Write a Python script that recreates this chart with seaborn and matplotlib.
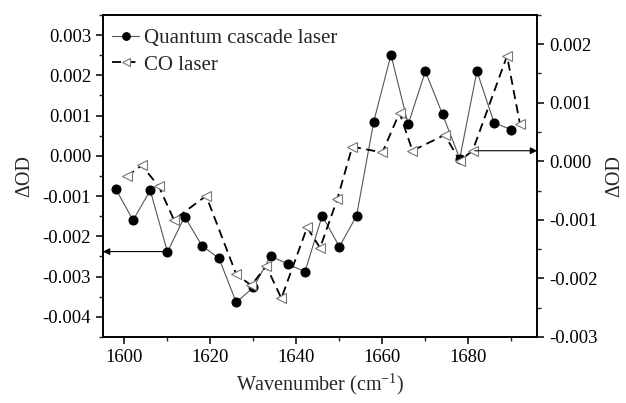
import numpy as np
import pandas as pd
import matplotlib
matplotlib.use("Agg")
import matplotlib.pyplot as plt
from matplotlib.ticker import MultipleLocator, FuncFormatter
import seaborn as sns

# QCL data (left axis)
qcl_x = [1598, 1602, 1606, 1610, 1614, 1618, 1622, 1626, 1630, 1634, 1638, 1642,
         1646, 1650, 1654, 1658, 1662, 1666, 1670, 1674, 1678, 1682, 1686, 1690]
qcl_y = [-0.00083, -0.00160, -0.00086, -0.00239, -0.00151, -0.00223, -0.00255, -0.00364,
         -0.00327, -0.00249, -0.00269, -0.00288, -0.00149, -0.00226, -0.00149, 0.00085,
         0.00251, 0.00078, 0.00210, 0.00103, -0.00007, 0.00210, 0.00082, 0.00065]

# CO laser data (right axis)
co_x = [1600.5, 1604, 1608, 1611.5, 1619, 1626, 1629.5, 1633, 1636.5, 1642.5, 1645.5,
        1649.5, 1653, 1660, 1664, 1667, 1674.5, 1678, 1681, 1689, 1692]
co_y = [-0.00026, -0.00007, -0.00043, -0.00100, -0.00059, -0.00193, -0.00212, -0.00179,
        -0.00234, -0.00113, -0.00148, -0.00065, 0.00025, 0.00015, 0.00083, 0.00018,
        0.00045, 0.00001, 0.00018, 0.00180, 0.00064]

sns.set_style("white")
plt.rcParams['font.family'] = ['Liberation Serif', 'DejaVu Serif']
plt.rcParams['mathtext.fontset'] = 'custom'
plt.rcParams['mathtext.rm'] = 'Liberation Serif'
plt.rcParams['mathtext.it'] = 'Liberation Serif:italic'
plt.rcParams['axes.unicode_minus'] = False

fig = plt.figure(figsize=(6.26, 4.03), dpi=100)
ax = fig.add_axes([0.1645, 0.164, 0.6935, 0.799])
ax2 = ax.twinx()

df_q = pd.DataFrame({"x": qcl_x, "y": qcl_y})
df_c = pd.DataFrame({"x": co_x, "y": co_y})

sns.lineplot(data=df_q, x="x", y="y", ax=ax, color="#555555", lw=0.8,
             marker="o", markersize=6.5, markerfacecolor="black", markeredgecolor="black",
             label="Quantum cascade laser", legend=False)
sns.lineplot(data=df_c, x="x", y="y", ax=ax2, color="black", lw=1.3, linestyle=(0, (5, 3)),
             marker="<", markersize=7.5, markerfacecolor="white", markeredgecolor="#777777",
             markeredgewidth=0.8, label="CO laser", legend=False)

ax.set_xlim(1595, 1696)
ax.set_ylim(-0.0045, 0.0035)
ax2.set_ylim(-0.003, 0.0025)

fmt = FuncFormatter(lambda v, p: f"{v:.3f}".replace("-0.000", "0.000"))
ax.yaxis.set_major_locator(MultipleLocator(0.001))
ax.yaxis.set_minor_locator(MultipleLocator(0.0005))
ax.yaxis.set_major_formatter(fmt)
ax2.yaxis.set_major_locator(MultipleLocator(0.001))
ax2.yaxis.set_minor_locator(MultipleLocator(0.0005))
ax2.yaxis.set_major_formatter(fmt)
ax.xaxis.set_major_locator(MultipleLocator(20))
ax.xaxis.set_minor_locator(MultipleLocator(10))

for a in (ax, ax2):
    for s in a.spines.values():
        s.set_linewidth(1.2)
        s.set_color("black")
ax.tick_params(axis="both", which="major", direction="out", length=5, width=1.1,
               labelsize=13.5, colors="black", left=True, bottom=True, top=False, right=False)
ax.tick_params(axis="both", which="minor", direction="out", length=3, width=1.0,
               left=True, bottom=True, top=False, right=False)
ax2.tick_params(axis="y", which="major", direction="out", length=5, width=1.1,
                labelsize=13.5, colors="black", right=True)
ax2.tick_params(axis="y", which="minor", direction="out", length=3, width=1.0, right=True)

ax.set_xlabel("Wavenumber (cm$^{\\mathrm{-1}}$)", fontsize=14.5)
ax.set_ylabel("ΔOD", fontsize=14.5, labelpad=6)
ax2.set_ylabel("ΔOD", fontsize=14.5, labelpad=6)

# arrows indicating axis association
ax.annotate("", xy=(1595, -0.00238), xytext=(1609, -0.00238),
            arrowprops=dict(arrowstyle="-|>", color="black", lw=0.8, mutation_scale=10,
                            shrinkA=0, shrinkB=0))
ax2.annotate("", xy=(1696, 0.00018), xytext=(1681.5, 0.00018),
             arrowprops=dict(arrowstyle="-|>", color="black", lw=0.8, mutation_scale=10,
                             shrinkA=0, shrinkB=0))

h1, l1 = ax.get_legend_handles_labels()
h2, l2 = ax2.get_legend_handles_labels()
ax.legend(h1 + h2, l1 + l2, loc="upper left", bbox_to_anchor=(0.007, 0.977),
          frameon=False, fontsize=15,
          handlelength=1.3, handletextpad=0.2, borderaxespad=0.0, labelspacing=0.33,
          borderpad=0.3, markerscale=0.85)

fig.savefig("out.png", dpi=100)
